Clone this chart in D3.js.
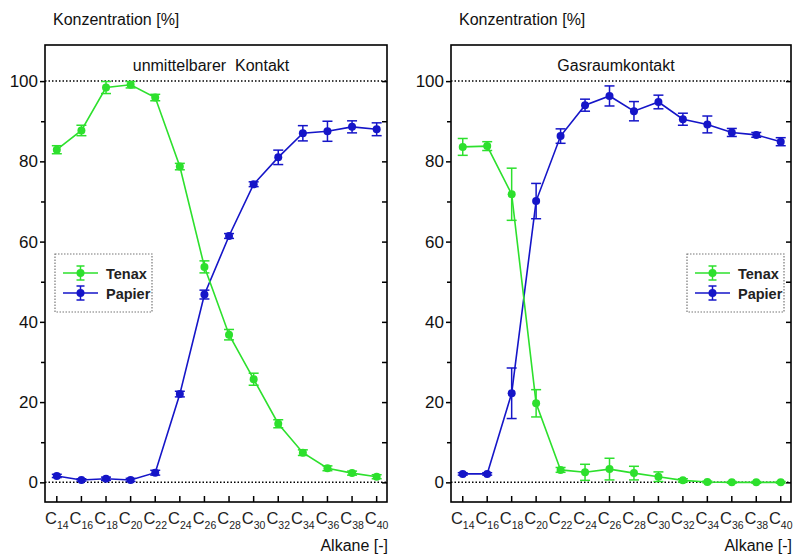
<!DOCTYPE html>
<html>
<head>
<meta charset="utf-8">
<script src="https://cdn.jsdelivr.net/npm/d3@7"></script>
<style>
  body { margin: 0; background: #fff; }
  svg { display: block; font-family: "Liberation Sans", Arial, sans-serif; }
</style>
</head>
<body>
<div id="chart"></div>
<script>
// alkane chain lengths (x categories)
const alkanes = ['14', '16', '18', '20', '22', '24', '26', '28', '30', '32', '34', '36', '38', '40'];

// left panel: unmittelbarer Kontakt
const directTenax = [82.9, 87.7, 98.4, 99.1, 95.9, 78.7, 53.7, 36.8, 25.7, 14.6, 7.4, 3.5, 2.3, 1.4];
const directTenaxErr = [1.0, 1.3, 1.5, 0.8, 0.8, 0.8, 1.5, 1.3, 1.5, 1.0, 0.7, 0.6, 0.5, 0.5];
const directPapier = [1.6, 0.6, 0.9, 0.6, 2.4, 22.0, 46.8, 61.4, 74.3, 81.0, 87.0, 87.5, 88.6, 88.0];
const directPapierErr = [0.4, 0.3, 0.4, 0.4, 0.6, 0.7, 1.1, 0.6, 0.6, 1.8, 1.9, 2.5, 1.5, 1.6];

// right panel: Gasraumkontakt
const gasTenax = [83.6, 83.8, 71.8, 19.7, 3.1, 2.5, 3.3, 2.3, 1.4, 0.5, 0.1, 0.0, 0.0, 0.0];
const gasTenaxErr = [2.1, 1.1, 6.5, 3.4, 0.6, 2.0, 2.7, 1.7, 1.2, 0.4, 0.2, 0.2, 0.2, 0.2];
const gasPapier = [2.1, 2.1, 22.2, 70.1, 86.3, 94.0, 96.3, 92.5, 94.8, 90.5, 89.2, 87.2, 86.6, 84.9];
const gasPapierErr = [0.3, 0.3, 6.3, 4.4, 1.8, 1.5, 2.5, 2.4, 1.7, 1.5, 2.1, 1.0, 0.6, 1.0];

const yTicks = [0, 20, 40, 60, 80, 100];
const yMinor = [10, 30, 50, 70, 90];

const GREEN = '#2de02d';
const BLUE = '#1515c8';

const width = 795;
const height = 557;

const svg = d3.select('#chart')
  .append('svg')
  .attr('width', width)
  .attr('height', height);

const panels = [
  { left: 45, right: 387, title: 'unmittelbarer  Kontakt', tenax: directTenax, tenaxErr: directTenaxErr,
    papier: directPapier, papierErr: directPapierErr, legendX: 55 },
  { left: 451, right: 791, title: 'Gasraumkontakt', tenax: gasTenax, tenaxErr: gasTenaxErr,
    papier: gasPapier, papierErr: gasPapierErr, legendX: 687 }
];

const plotTop = 45;
const plotBottom = 502;

const y = d3.scaleLinear().domain([-4.9, 109]).range([plotBottom, plotTop]);

function drawSeries(g, x, values, errs, color) {
  const line = d3.line()
    .x((d, i) => x(i))
    .y((d) => y(d));

  g.append('path')
    .datum(values)
    .attr('fill', 'none')
    .attr('stroke', color)
    .attr('stroke-width', 1.6)
    .attr('d', line);

  const bars = g.append('g')
    .attr('stroke', color)
    .attr('stroke-width', 1.5);

  values.forEach((v, i) => {
    const cx = x(i);
    const y0 = y(v - errs[i]);
    const y1 = y(v + errs[i]);
    bars.append('line').attr('x1', cx).attr('x2', cx).attr('y1', y0).attr('y2', y1);
    bars.append('line').attr('x1', cx - 5).attr('x2', cx + 5).attr('y1', y0).attr('y2', y0);
    bars.append('line').attr('x1', cx - 5).attr('x2', cx + 5).attr('y1', y1).attr('y2', y1);
  });

  g.append('g')
    .selectAll('circle')
    .data(values)
    .join('circle')
    .attr('cx', (d, i) => x(i))
    .attr('cy', (d) => y(d))
    .attr('r', 4)
    .attr('fill', color);
}

function legendEntry(g, x0, yc, color, label) {
  g.append('line')
    .attr('x1', x0).attr('x2', x0 + 35).attr('y1', yc).attr('y2', yc)
    .attr('stroke', color).attr('stroke-width', 1.6);
  const cx = x0 + 17.5;
  g.append('line').attr('x1', cx).attr('x2', cx).attr('y1', yc - 7).attr('y2', yc + 7)
    .attr('stroke', color).attr('stroke-width', 1.5);
  g.append('line').attr('x1', cx - 4).attr('x2', cx + 4).attr('y1', yc - 7).attr('y2', yc - 7)
    .attr('stroke', color).attr('stroke-width', 1.5);
  g.append('line').attr('x1', cx - 4).attr('x2', cx + 4).attr('y1', yc + 7).attr('y2', yc + 7)
    .attr('stroke', color).attr('stroke-width', 1.5);
  g.append('circle').attr('cx', cx).attr('cy', yc).attr('r', 4).attr('fill', color);
  g.append('text')
    .attr('x', x0 + 43).attr('y', yc + 5.5)
    .attr('font-size', 14.5)
    .attr('font-weight', 'bold')
    .attr('fill', '#222')
    .text(label);
}

panels.forEach((p) => {
  const g = svg.append('g');

  const x = d3.scaleLinear()
    .domain([-0.48, alkanes.length - 1 + 0.42])
    .range([p.left, p.right]);

  // axis title
  g.append('text')
    .attr('x', p.left + 8)
    .attr('y', 25)
    .attr('font-size', 16)
    .attr('fill', '#111')
    .text('Konzentration [%]');

  // panel title
  g.append('text')
    .attr('x', (p.left + p.right) / 2 - 5)
    .attr('y', 71)
    .attr('text-anchor', 'middle')
    .attr('font-size', 16)
    .attr('fill', '#111')
    .style('white-space', 'pre')
    .text(p.title);

  // left y axis
  const yAxis = d3.axisLeft(y).tickValues(yTicks).tickSize(5).tickPadding(2);
  const ga = g.append('g')
    .attr('transform', `translate(${p.left},0)`)
    .call(yAxis);
  ga.select('.domain').remove();
  ga.selectAll('line').attr('stroke', '#000').attr('stroke-width', 1.5);
  ga.selectAll('text').attr('font-size', 17).attr('fill', '#111')
    .attr('font-family', '"Liberation Sans", Arial, sans-serif');

  const gm = g.append('g')
    .attr('transform', `translate(${p.left},0)`)
    .call(d3.axisLeft(y).tickValues(yMinor).tickSize(4).tickFormat(''));
  gm.select('.domain').remove();
  gm.selectAll('line').attr('stroke', '#000').attr('stroke-width', 1.5);

  // right mirror ticks
  const gr = g.append('g')
    .attr('transform', `translate(${p.right},0)`)
    .call(d3.axisLeft(y).tickValues(yTicks.concat(yMinor)).tickSize(5).tickFormat(''));
  gr.select('.domain').remove();
  gr.selectAll('line').attr('stroke', '#000').attr('stroke-width', 1.5);

  // bottom ticks (inward)
  g.append('g')
    .selectAll('line')
    .data(alkanes)
    .join('line')
    .attr('x1', (d, i) => x(i))
    .attr('x2', (d, i) => x(i))
    .attr('y1', plotBottom)
    .attr('y2', plotBottom - 6)
    .attr('stroke', '#000')
    .attr('stroke-width', 1.5);

  // x tick labels C with subscript
  const labels = g.append('g')
    .selectAll('text')
    .data(alkanes)
    .join('text')
    .attr('x', (d, i) => x(i))
    .attr('y', 524)
    .attr('text-anchor', 'middle')
    .attr('font-size', 16.5)
    .attr('fill', '#222');
  labels.append('tspan').text('C');
  labels.append('tspan')
    .attr('font-size', 10.5)
    .attr('dy', 5)
    .text((d) => d);

  // x axis title
  g.append('text')
    .attr('x', p.right + 1)
    .attr('y', 551)
    .attr('text-anchor', 'end')
    .attr('font-size', 16)
    .attr('fill', '#111')
    .text('Alkane [-]');

  // dotted reference lines at 0 and 100
  [0, 100].forEach((v) => {
    g.append('line')
      .attr('x1', p.left).attr('x2', p.right)
      .attr('y1', y(v)).attr('y2', y(v))
      .attr('stroke', '#000')
      .attr('stroke-width', 1.5)
      .attr('stroke-dasharray', '1.5,2');
  });

  // series
  drawSeries(g, x, p.papier, p.papierErr, BLUE);
  drawSeries(g, x, p.tenax, p.tenaxErr, GREEN);

  // frame
  g.append('rect')
    .attr('x', p.left)
    .attr('y', plotTop)
    .attr('width', p.right - p.left)
    .attr('height', plotBottom - plotTop)
    .attr('fill', 'none')
    .attr('stroke', '#000')
    .attr('stroke-width', 1.6);

  // legend
  const lg = g.append('g');
  lg.append('rect')
    .attr('x', p.legendX)
    .attr('y', 254)
    .attr('width', 97)
    .attr('height', 58)
    .attr('fill', '#fff')
    .attr('stroke', '#777')
    .attr('stroke-width', 1.2)
    .attr('stroke-dasharray', '1.5,1.5');
  legendEntry(lg, p.legendX + 8, 273, GREEN, 'Tenax');
  legendEntry(lg, p.legendX + 8, 293, BLUE, 'Papier');
});
</script>
</body>
</html>
